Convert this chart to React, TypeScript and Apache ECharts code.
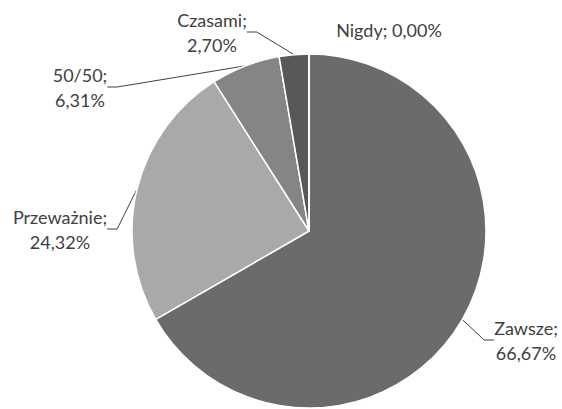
import React, { useEffect, useRef } from "react";
import * as echarts from "echarts";

// Answer categories, in clockwise order from 12 o'clock
const categories = ["Zawsze", "Przeważnie", "50/50", "Czasami", "Nigdy"];
// Share of answers, in percent
const shares = [66.67, 24.32, 6.31, 2.7, 0.0];
// Slice fills
const sliceColors = ["#6b6b6e", "#a9a9ab", "#858587", "#58585a", "#3f3f41"];
// Label centres (px) for each category
const labelCentres: [number, number][] = [
  [526, 340],
  [60, 229],
  [80, 87],
  [212, 32],
  [389, 30],
];
// Categories whose label sits on a single line
const singleLine = ["Nigdy"];

const fmt = (v: number) => v.toFixed(2).replace(".", ",") + "%";

export default function App() {
  const ref = useRef<HTMLDivElement>(null);

  useEffect(() => {
    if (!ref.current) return;
    const chart = echarts.init(ref.current, null, { renderer: "svg" });

    const data = categories.map((name, i) => ({
      name,
      value: shares[i],
      itemStyle: { color: sliceColors[i] },
      label: {
        formatter: singleLine.includes(name)
          ? `${name}; ${fmt(shares[i])}`
          : `${name};\n${fmt(shares[i])}`,
      },
      labelLine: { show: !singleLine.includes(name) },
    }));

    chart.setOption({
      animation: false,
      backgroundColor: "#ffffff",
      series: [
        {
          type: "pie",
          center: [309, 231],
          radius: 177,
          startAngle: 90,
          clockwise: true,
          avoidLabelOverlap: false,
          minShowLabelAngle: 0,
          data,
          itemStyle: { borderColor: "#ffffff", borderWidth: 1.5 },
          emphasis: { disabled: true },
          label: {
            show: true,
            fontFamily: "Lato, 'Noto Sans', sans-serif",
            fontSize: 18,
            lineHeight: 25,
            color: "#404040",
            align: "center",
          },
          labelLine: {
            show: true,
            length: 14,
            length2: 10,
            lineStyle: { color: "#404040", width: 1 },
          },
          labelLayout: (params: any) => {
            const [x, y] = labelCentres[params.dataIndex];
            return { x, y, align: "center", verticalAlign: "middle" };
          },
        },
      ],
    });

    return () => chart.dispose();
  }, []);

  return (
    <div
      ref={ref}
      style={{ position: "fixed", left: 0, top: 0, width: 562, height: 409 }}
    />
  );
}
